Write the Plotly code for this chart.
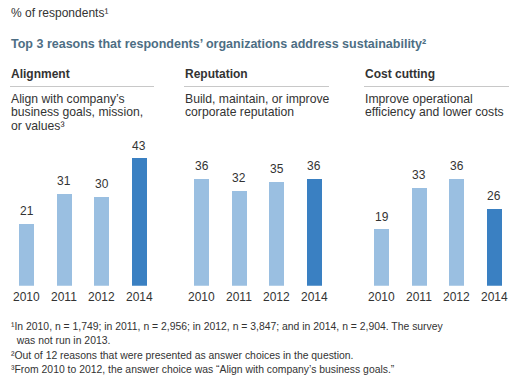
import plotly.graph_objects as go
from plotly.subplots import make_subplots

W, H = 521, 384

years = ["2010", "2011", "2012", "2014"]
alignment = [21, 31, 30, 43]
reputation = [36, 32, 35, 36]
cost_cutting = [19, 33, 36, 26]

panel_titles = ["Alignment", "Reputation", "Cost cutting"]
panel_subtitles = [
    ["Align with company’s", "business goals, mission,", "or values³"],
    ["Build, maintain, or improve", "corporate reputation"],
    ["Improve operational", "efficiency and lower costs"],
]
unit_label = "% of respondents¹"
chart_title = "Top 3 reasons that respondents’ organizations address sustainability²"
footnotes = [
    "¹In 2010, n = 1,749; in 2011, n = 2,956; in 2012, n = 3,847; and in 2014, n = 2,904. The survey",
    "  was not run in 2013.",
    "²Out of 12 reasons that were presented as answer choices in the question.",
    "³From 2010 to 2012, the answer choice was “Align with company’s business goals.”",
]

series = [alignment, reputation, cost_cutting]

LIGHT = "#9ABFE1"
DARK = "#3A80C2"
TEXT = "#333333"
TITLE = "#4D6E84"
FONT = "Liberation Sans, Arial, Helvetica, sans-serif"

def px(x):
    return x / W

def py(y):
    return 1 - y / H

fig = make_subplots(rows=1, cols=3)

panel_left = [7.75, 182.75, 362.75]
panel_w = 150
base_y = 285.7
top_y = base_y - 45 * 2.98

annotations = []

for i, vals in enumerate(series):
    colors = [LIGHT, LIGHT, LIGHT, DARK]
    fig.add_trace(
        go.Bar(
            x=years, y=vals, marker=dict(color=colors, line=dict(width=0)),
            width=0.4, hoverinfo="skip", showlegend=False,
        ),
        row=1, col=i + 1,
    )
    sfx = "" if i == 0 else str(i + 1)
    xa = "xaxis" + sfx
    ya = "yaxis" + sfx
    fig.layout[xa].update(
        domain=[px(panel_left[i]), px(panel_left[i] + panel_w)],
        type="category", range=[-0.5, 3.5], showgrid=False, zeroline=False,
        showline=False, ticks="", showticklabels=False, fixedrange=True,
    )
    fig.layout[ya].update(
        domain=[py(base_y), py(top_y)], range=[0, 45], visible=False,
        showgrid=False, zeroline=False, fixedrange=True,
    )
    for j, v in enumerate(vals):
        annotations.append(dict(
            text=str(v), x=j, y=v, xref="x" + sfx, yref="y" + sfx,
            xanchor="center", yanchor="bottom", yshift=3, showarrow=False,
            font=dict(size=12, color=TEXT, family=FONT),
        ))
        annotations.append(dict(
            text=years[j], x=j, y=0, xref="x" + sfx, yref="y" + sfx,
            xanchor="center", yanchor="top", yshift=-2, showarrow=False,
            font=dict(size=12, color=TEXT, family=FONT),
        ))

def add_text(text, x, y, size, color=TEXT, bold=False):
    annotations.append(dict(
        text=f"<b>{text}</b>" if bold else text, x=px(x), y=py(y),
        xref="paper", yref="paper", xanchor="left", yanchor="middle",
        showarrow=False, font=dict(size=size, color=color, family=FONT),
    ))

add_text(unit_label, 9, 13, 12)
add_text(chart_title, 9, 43.5, 12.5, color=TITLE, bold=True)

header_x = [9, 183, 363]
line_ends = [154, 329, 509]
shapes = []
for i in range(3):
    add_text(panel_titles[i], header_x[i], 74, 12, bold=True)
    shapes.append(dict(type="line", xref="paper", yref="paper",
                       x0=px(header_x[i] + 1), x1=px(line_ends[i]),
                       y0=py(86.5), y1=py(86.5),
                       line=dict(color="#C8C8C8", width=1)))
    for j, line in enumerate(panel_subtitles[i]):
        add_text(line, header_x[i], 99 + j * 13.4, 12.2)

for j, line in enumerate(footnotes):
    add_text(line, 9, 326 + j * 14.6, 10.4)

fig.update_layout(
    width=W, height=H, margin=dict(l=0, r=0, t=0, b=0),
    paper_bgcolor="white", plot_bgcolor="white",
    annotations=annotations, shapes=shapes, bargap=0,
    font=dict(family=FONT, color=TEXT),
)

fig.write_html(
    "out.html",
    config={"displayModeBar": False},
    post_script="document.body.style.margin='0';document.body.style.padding='0';",
)
